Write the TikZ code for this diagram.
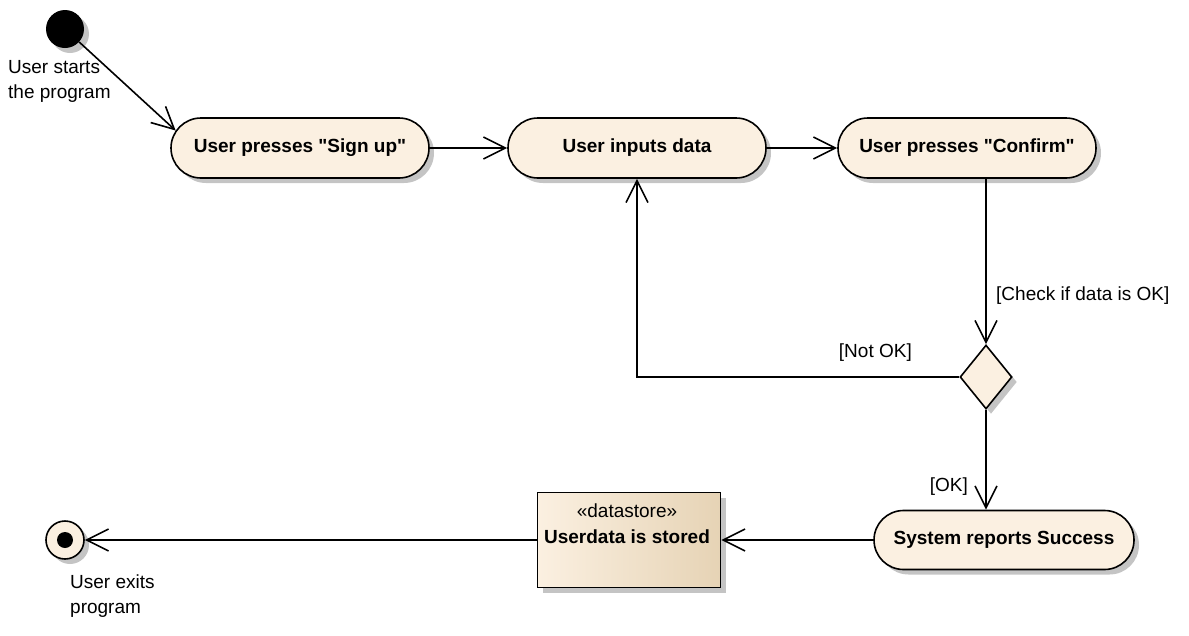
\documentclass[tikz,border=0pt]{standalone}
\usepackage{fontspec}
\setmainfont{Liberation Sans}
\usetikzlibrary{arrows.meta,shapes.misc,shapes.geometric,shadows}
\definecolor{actfill}{HTML}{FBF0E1}
\definecolor{actdark}{HTML}{E6D3B5}
\definecolor{shadowc}{HTML}{C4C4C4}
\newcommand{\dq}{\XeTeXglyph\XeTeXcharglyph"22\relax}
\begin{document}
\begin{tikzpicture}[x=1pt,y=-1pt,
 shad/.style={drop shadow={shadow xshift=5pt,shadow yshift=-5pt,fill=shadowc,opacity=1}},
 action/.style={rounded rectangle, draw, line width=1.6pt, fill=actfill, minimum height=60pt,
   minimum width=258pt, inner sep=0pt, font=\bfseries\fontsize{19}{23}\selectfont, shad},
 flow/.style={draw, line width=1.6pt, -{Straight Barb[length=22pt,width=22pt,line width=1.6pt]}},
 lbl/.style={font=\fontsize{19}{25}\selectfont, align=left, inner sep=0pt}
]
\useasboundingbox (0,0) rectangle (1189,635);

\node[circle, fill=black, minimum size=38pt, inner sep=0pt, shad] (start) at (65,29) {};
\node[lbl, anchor=north west] (startlbl) at (8,60) {User starts\\the program};

\node[action] (signup) at (300,148) {User presses \dq Sign up\dq};
\node[action] (inputs) at (637,148) {User inputs data};
\node[action] (confirm) at (967,148) {User presses \dq Confirm\dq};
\node[diamond, draw, line width=1.6pt, fill=actfill, minimum width=52pt, minimum height=64pt,
  inner sep=0pt, shad] (decision) at (986,377) {};
\node[action, minimum width=260pt, minimum height=59pt] (success) at (1004,540) {System reports Success};
\node[draw, line width=1.6pt, minimum width=183pt, minimum height=95pt, inner sep=0pt,
  left color=actfill, middle color=actfill, right color=actdark, shad] (store) at (629,540) {};
\node[align=center, inner sep=0pt, font=\fontsize{19}{26}\selectfont] (storetxt) at (627,524)
  {«datastore»\\\textbf{Userdata is stored}};
\node[circle, draw, line width=1.6pt, fill=actfill, minimum size=38pt, inner sep=0pt, shad] (final) at (65,540) {};
\node[circle, fill=black, minimum size=16pt, inner sep=0pt] (finaldot) at (final.center) {};
\node[lbl, anchor=north west] (finallbl) at (70,575) {User exits\\program};

\draw[flow] (start) -- (signup.172);
\draw[flow] (signup) -- (inputs);
\draw[flow] (inputs) -- (confirm);
\draw[flow] (confirm.south -| decision.north) -- (decision.north);
\node[lbl, anchor=west] (checklbl) at (996,296) {[Check if data is OK]};
\draw[flow] (decision.west) -| (inputs.south);
\node[lbl, anchor=east] (notoklbl) at (912,353) {[Not OK]};
\draw[flow] (decision.south) -- (success.north -| decision.south);
\node[lbl, anchor=east] (oklbl) at (968,487) {[OK]};
\draw[flow] (success) -- (store);
\draw[flow] (store) -- (final);
\end{tikzpicture}
\end{document}
